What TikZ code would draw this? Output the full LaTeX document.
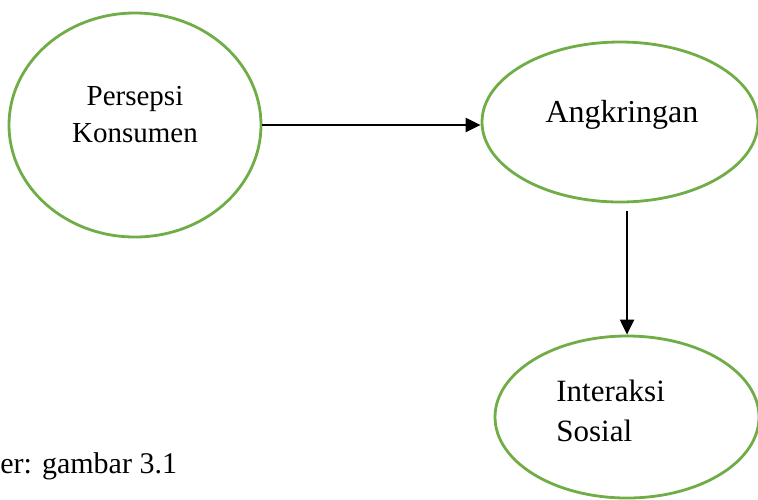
\documentclass[tikz,border=0pt]{standalone}
\usepackage{fontspec}
\setmainfont{Liberation Serif}
\usetikzlibrary{shapes, arrows.meta, calc}
\definecolor{bubblegreen}{RGB}{112,173,71}
\def \bubbleline {1.4pt}

\tikzset{
  bubble/.style = {ellipse, draw = bubblegreen, line width = \bubbleline, inner sep = 0pt},
  bubbletext/.style = {inner sep = 0pt, anchor = base},
  flow/.style = {-{Triangle[width = 7pt, length = 7.5pt]}, line width = 1.1pt, black}
}

\begin{document}
\begin{tikzpicture}[x = 0.5pt, y = -0.5pt]
\useasboundingbox (0, 0) rectangle (758, 499);

\node (persepsi) [bubble, minimum width = 126pt, minimum height = 112pt] at (135, 125) {};
\node (angkringan) [bubble, minimum width = 138pt, minimum height = 80pt] at (620, 122) {};
\node (interaksi) [bubble, minimum width = 132pt, minimum height = 81pt] at (627, 417) {};

\node (persepsitxt) [bubbletext] at (135, 105) {\fontsize{14.5}{18.5}\selectfont\begin{tabular}[t]{@{}c@{}}Persepsi\\Konsumen\end{tabular}};
\node (angkringantxt) [bubbletext] at (622, 122) {\fontsize{16}{19}\selectfont Angkringan};
\node (interaksitxt) [bubbletext, anchor = base west] at (556, 401) {\fontsize{15.5}{20}\selectfont\begin{tabular}[t]{@{}l@{}}Interaksi\\Sosial\end{tabular}};

\node (sumber) [bubbletext, anchor = base west] at (0, 473) {\fontsize{15}{18}\selectfont er: gambar 3.1};

\draw[flow] (persepsi.east) -- (persepsi.east -| angkringan.west);
\draw[flow, shorten <= 4pt] (interaksi.north |- angkringan.south) -- (interaksi.north);

\end{tikzpicture}
\end{document}
